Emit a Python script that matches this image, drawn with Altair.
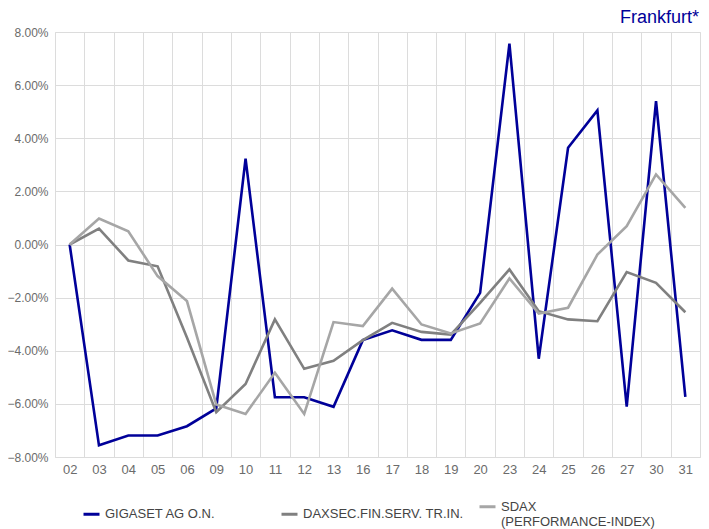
import altair as alt
import pandas as pd

categories = ["02", "03", "04", "05", "06", "09", "10", "11", "12", "13", "16",
              "17", "18", "19", "20", "23", "24", "25", "26", "27", "30", "31"]
series_names = ["GIGASET AG O.N.", "DAXSEC.FIN.SERV. TR.IN.", "SDAX (PERFORMANCE-INDEX)"]
series_colors = ["#000099", "#808080", "#a6a6a6"]

# values in percent
gigaset = [0, -7.56, -7.19, -7.19, -6.84, -6.17, 3.23, -5.75, -5.75, -6.11, -3.60,
           -3.23, -3.59, -3.59, -1.82, 7.56, -4.30, 3.64, 5.05, -6.10, 5.40, -5.74]
daxsec = [0, 0.60, -0.60, -0.82, -3.50, -6.31, -5.25, -2.82, -4.68, -4.38, -3.60,
          -2.95, -3.29, -3.39, -2.20, -0.94, -2.51, -2.82, -2.89, -1.04, -1.44, -2.55]
sdax = [0, 0.98, 0.50, -1.19, -2.13, -6.02, -6.38, -4.83, -6.38, -2.92, -3.07,
        -1.66, -3.01, -3.35, -2.97, -1.28, -2.60, -2.38, -0.38, 0.69, 2.64, 1.38]

y_ticks = [-0.08, -0.06, -0.04, -0.02, 0.0, 0.02, 0.04, 0.06, 0.08]

rows = []
for i, (name, vals) in enumerate(zip(series_names, [gigaset, daxsec, sdax])):
    for c, v in zip(categories, vals):
        rows.append({"day": c, "series": name, "idx": i, "value": v / 100.0})
df = pd.DataFrame(rows)

FONT = "Liberation Sans"
GRID = "#dcdcdc"

chart = alt.Chart(df).mark_line(strokeWidth=2.6).encode(
    x=alt.X(
        "day:N",
        sort=categories,
        bandPosition=0.5,
        scale=alt.Scale(type="band", paddingInner=0, paddingOuter=0),
        axis=alt.Axis(
            title=None, tickBand="extent", grid=True, gridColor=GRID, ticks=False,
            domain=False, labelAngle=0, labelPadding=6, labelFontSize=13,
            labelColor="#6b6b6b", labelFont=FONT,
        ),
    ),
    y=alt.Y(
        "value:Q",
        scale=alt.Scale(domain=[-0.08, 0.08], nice=False),
        axis=alt.Axis(
            title=None, values=y_ticks, format=".2%", grid=True, gridColor=GRID,
            ticks=False, domain=False, labelPadding=7, labelFontSize=12,
            labelColor="#6b6b6b", labelFont=FONT,
        ),
    ),
    color=alt.Color(
        "series:N",
        scale=alt.Scale(domain=series_names, range=series_colors),
        legend=alt.Legend(
            title=None, orient="none", legendX=27, legendY=465, direction="horizontal",
            columns=3, gridAlign="all", columnPadding=9, symbolType="stroke",
            symbolSize=256, symbolStrokeWidth=3, labelFontSize=13, labelColor="#444444",
            labelFont=FONT, labelOffset=4, labelLimit=300, padding=0,
            labelExpr="datum.label == 'SDAX (PERFORMANCE-INDEX)' ? ['SDAX', '(PERFORMANCE-INDEX)'] : datum.label",
        ),
    ),
    order=alt.Order("idx:Q"),
).properties(
    width=645,
    height=425,
    title=alt.TitleParams(
        text="Frankfurt*", anchor="end", fontSize=18, font=FONT, fontWeight="normal",
        color="#000099", offset=-1, dx=-1,
    ),
    autosize=alt.AutoSizeParams(type="none"),
    padding={"left": 47, "top": 24, "right": 1, "bottom": 72},
).configure_view(stroke=GRID).configure(font=FONT)

chart.save("out.html", embed_options={"renderer": "svg", "actions": False})
